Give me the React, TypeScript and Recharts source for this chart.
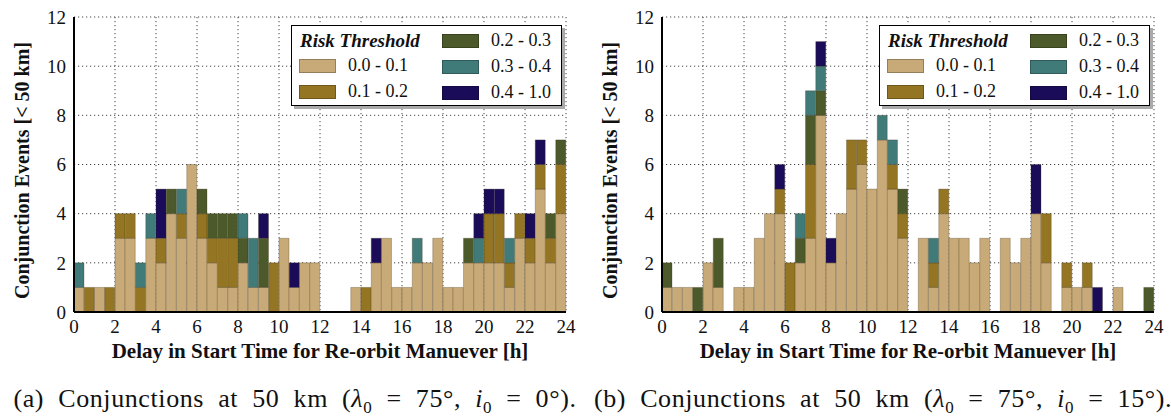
import React from 'react';
import { BarChart, Bar, XAxis, YAxis, CartesianGrid, Legend } from 'recharts';

const hourTicks = [0, 2, 4, 6, 8, 10, 12, 14, 16, 18, 20, 22, 24];
const countTicks = [0, 2, 4, 6, 8, 10, 12];
const binWidth = 0.5;

const riskKeys = ['r0', 'r1', 'r2', 'r3', 'r4'];
const riskLabels = ['0.0 - 0.1', '0.1 - 0.2', '0.2 - 0.3', '0.3 - 0.4', '0.4 - 1.0'];
const riskColors = ['#C7AA78', '#937523', '#4C592A', '#407A79', '#1B0C5A'];

// (a) lambda0 = 75, i0 = 0 -- counts per half-hour bin
const a_r0 = [1, 0, 1, 0, 3, 3, 0, 3, 2, 4, 3, 6, 3, 2, 1, 1, 2, 1, 1, 0, 3, 1, 2, 2, 0, 0, 0, 1, 0, 2, 3, 1, 1, 2, 2, 3, 1, 1, 2, 2, 2, 2, 1, 3, 2, 5, 2, 4];
const a_r1 = [0, 1, 0, 1, 1, 1, 1, 0, 1, 0, 1, 0, 1, 1, 2, 2, 0, 0, 0, 2, 0, 0, 0, 0, 0, 0, 0, 0, 1, 0, 0, 0, 0, 0, 0, 0, 0, 0, 0, 0, 2, 2, 1, 1, 1, 1, 1, 2];
const a_r2 = [0, 0, 0, 0, 0, 0, 0, 0, 0, 1, 0, 0, 1, 1, 1, 1, 1, 0, 2, 0, 0, 0, 0, 0, 0, 0, 0, 0, 0, 0, 0, 0, 0, 0, 0, 0, 0, 0, 1, 0, 0, 0, 0, 0, 0, 0, 1, 1];
const a_r3 = [1, 0, 0, 0, 0, 0, 1, 1, 0, 0, 1, 0, 0, 0, 0, 0, 1, 2, 0, 0, 0, 0, 0, 0, 0, 0, 0, 0, 0, 0, 0, 0, 0, 1, 0, 0, 0, 0, 0, 1, 0, 0, 1, 0, 0, 0, 0, 0];
const a_r4 = [0, 0, 0, 0, 0, 0, 0, 0, 2, 0, 0, 0, 0, 0, 0, 0, 0, 0, 1, 0, 0, 1, 0, 0, 0, 0, 0, 0, 0, 1, 0, 0, 0, 0, 0, 0, 0, 0, 0, 1, 1, 1, 0, 0, 1, 1, 0, 0];

// (b) lambda0 = 75, i0 = 15
const b_r0 = [1, 1, 1, 0, 2, 1, 0, 1, 1, 3, 4, 4, 0, 2, 3, 8, 2, 4, 5, 6, 5, 7, 5, 3, 0, 3, 1, 4, 3, 3, 2, 3, 0, 3, 2, 3, 4, 2, 0, 1, 1, 1, 0, 0, 1, 0, 0, 0];
const b_r1 = [0, 0, 0, 0, 0, 0, 0, 0, 0, 0, 0, 1, 2, 0, 3, 0, 0, 0, 2, 1, 0, 0, 1, 1, 0, 0, 1, 1, 0, 0, 0, 0, 0, 0, 0, 0, 0, 2, 0, 1, 0, 1, 0, 0, 0, 0, 0, 0];
const b_r2 = [1, 0, 0, 1, 0, 2, 0, 0, 0, 0, 0, 0, 0, 1, 2, 1, 0, 0, 0, 0, 0, 0, 0, 1, 0, 0, 0, 0, 0, 0, 0, 0, 0, 0, 0, 0, 0, 0, 0, 0, 0, 0, 0, 0, 0, 0, 0, 1];
const b_r3 = [0, 0, 0, 0, 0, 0, 0, 0, 0, 0, 0, 0, 0, 1, 1, 1, 0, 0, 0, 0, 0, 1, 1, 0, 0, 0, 1, 0, 0, 0, 0, 0, 0, 0, 0, 0, 0, 0, 0, 0, 0, 0, 0, 0, 0, 0, 0, 0];
const b_r4 = [0, 0, 0, 0, 0, 0, 0, 0, 0, 0, 0, 1, 0, 0, 0, 1, 1, 0, 0, 0, 0, 0, 0, 0, 0, 0, 0, 0, 0, 0, 0, 0, 0, 0, 0, 0, 2, 0, 0, 0, 0, 0, 1, 0, 0, 0, 0, 0];

const serif = '"Liberation Serif", "Times New Roman", serif';

function buildRows(series: number[][]) {
  return series[0].map((_, i) => {
    const row: any = { bin: i, x: (i + 0.5) * binWidth };
    riskKeys.forEach((k, s) => {
      row[k] = series[s][i];
    });
    return row;
  });
}

function RiskLegend() {
  const sw = (c: string) => ({
    position: 'absolute' as const,
    width: 35,
    height: 12,
    background: c,
    border: '1px solid rgba(0,0,0,0.25)',
  });
  const col1 = [0, 1];
  const col2 = [2, 3, 4];
  return (
    <div
      style={{
        position: 'relative',
        width: 269,
        height: 79,
        background: '#fff',
        border: '1.5px solid #000',
        boxShadow: '3px 3px 0 #aaa',
        fontFamily: serif,
        fontSize: 18,
        color: '#111',
      }}
    >
      <div style={{ position: 'absolute', left: 8, top: 4, fontWeight: 'bold', fontStyle: 'italic', fontSize: 19 }}>Risk Threshold</div>
      {col1.map((s, r) => (
        <React.Fragment key={s}>
          <div style={{ ...sw(riskColors[s]), left: 7, top: 33 + r * 26 }} />
          <div style={{ position: 'absolute', left: 56, top: 29 + r * 26 }}>{riskLabels[s]}</div>
        </React.Fragment>
      ))}
      {col2.map((s, r) => (
        <React.Fragment key={s}>
          <div style={{ ...sw(riskColors[s]), left: 150, top: 8 + r * 26 }} />
          <div style={{ position: 'absolute', left: 199, top: 4 + r * 26 }}>{riskLabels[s]}</div>
        </React.Fragment>
      ))}
    </div>
  );
}

function YLabel(props: any) {
  const vb = props.viewBox || { x: 0, y: 17, width: 74, height: 295 };
  const cx = vb.x + 22;
  const cy = vb.y + vb.height / 2 + 6;
  return (
    <text
      x={cx}
      y={cy}
      transform={`rotate(-90 ${cx} ${cy})`}
      textAnchor="middle"
      dominantBaseline="central"
      fontFamily={serif}
      fontWeight="bold"
      fontSize={20}
      fill="#111"
    >
      Conjunction Events [&lt; 50 km]
    </text>
  );
}

function Panel({ series }: { series: number[][] }) {
  const rows = buildRows(series);
  const tickStyle = { fontFamily: serif, fontSize: 19, fill: '#111' };
  const axisLine = { stroke: '#000', strokeWidth: 2 };
  return (
    <BarChart
      width={590}
      height={419}
      data={rows}
      margin={{ top: 17, right: 24, bottom: 57, left: 0 }}
      barCategoryGap={0}
      barGap={0}
    >
      <CartesianGrid xAxisId="num" yAxisId="left" stroke="#444" strokeDasharray="1.2 2.8" verticalValues={hourTicks} horizontalValues={countTicks} />
      <XAxis
        xAxisId="num"
        dataKey="x"
        type="number"
        domain={[0, 24]}
        ticks={hourTicks}
        allowDataOverflow
        height={50}
        tickLine={false}
        tickSize={4}
        tickMargin={4}
        axisLine={axisLine}
        tick={tickStyle}
        interval={0}
        label={{
          value: 'Delay in Start Time for Re-orbit Manuever [h]',
          position: 'insideBottom',
          offset: 4,
          style: { fontFamily: serif, fontWeight: 'bold', fontSize: 21, fill: '#111' },
        }}
      />
      <XAxis xAxisId="cat" dataKey="bin" type="category" hide height={0} />
      <XAxis xAxisId="numIn" dataKey="x" type="number" domain={[0, 24]} ticks={hourTicks} allowDataOverflow mirror height={0} tick={false} tickSize={4} axisLine={false} tickLine={{ stroke: '#000' }} />
      <XAxis xAxisId="top" dataKey="x" type="number" orientation="top" domain={[0, 24]} ticks={hourTicks} allowDataOverflow mirror height={0} tick={false} tickSize={4} axisLine={axisLine} tickLine={{ stroke: '#000' }} />
      <YAxis
        yAxisId="left"
        type="number"
        domain={[0, 12]}
        ticks={countTicks}
        allowDataOverflow
        width={74}
        tickLine={false}
        tickSize={4}
        tickMargin={4}
        axisLine={axisLine}
        tick={tickStyle}
        interval={0}
        label={YLabel}
      />
      <YAxis yAxisId="leftIn" type="number" domain={[0, 12]} ticks={countTicks} allowDataOverflow mirror width={0} tick={false} tickSize={4} axisLine={false} tickLine={{ stroke: '#000' }} />
      <YAxis yAxisId="right" orientation="right" type="number" domain={[0, 12]} ticks={countTicks} allowDataOverflow mirror width={0} tick={false} tickSize={4} axisLine={axisLine} tickLine={{ stroke: '#000' }} />
      {riskKeys.map((k, s) => (
        <Bar
          key={k}
          dataKey={k}
          name={riskLabels[s]}
          xAxisId="cat"
          yAxisId="left"
          stackId="risk"
          fill={riskColors[s]}
          stroke="rgba(60,45,20,0.35)"
          strokeWidth={0.8}
          isAnimationActive={false}
        />
      ))}
      <Legend
        layout="horizontal"
        verticalAlign="middle"
        align="center"
        content={() => <RiskLegend />}
        wrapperStyle={{ top: 25, left: 291, width: 'auto', height: 'auto' }}
      />
    </BarChart>
  );
}

function Caption({ tag, inc }: { tag: string; inc: string }) {
  return (
    <div
      style={{
        position: 'absolute',
        top: 384,
        left: 0,
        width: 590,
        textAlign: 'center',
        fontFamily: serif,
        fontSize: 26,
        lineHeight: '30px',
        letterSpacing: 0.6,
        wordSpacing: 7,
        color: '#111',
        whiteSpace: 'nowrap',
      }}
    >
      ({tag}) Conjunctions at 50 km (<i>λ</i>
      <sub style={{ fontSize: 17, lineHeight: 0 }}>0</sub> = 75°, <i>i</i>
      <sub style={{ fontSize: 17, lineHeight: 0 }}>0</sub> = {inc}°).
    </div>
  );
}

export default function App() {
  return (
    <div style={{ position: 'absolute', left: 0, top: 0, width: 1171, height: 419, background: '#fff' }}>
      <div style={{ position: 'absolute', left: 0, top: 0, width: 590, height: 419 }}>
        <Panel series={[a_r0, a_r1, a_r2, a_r3, a_r4]} />
        <Caption tag="a" inc="0" />
      </div>
      <div style={{ position: 'absolute', left: 588, top: 0, width: 590, height: 419 }}>
        <Panel series={[b_r0, b_r1, b_r2, b_r3, b_r4]} />
        <Caption tag="b" inc="15" />
      </div>
    </div>
  );
}
